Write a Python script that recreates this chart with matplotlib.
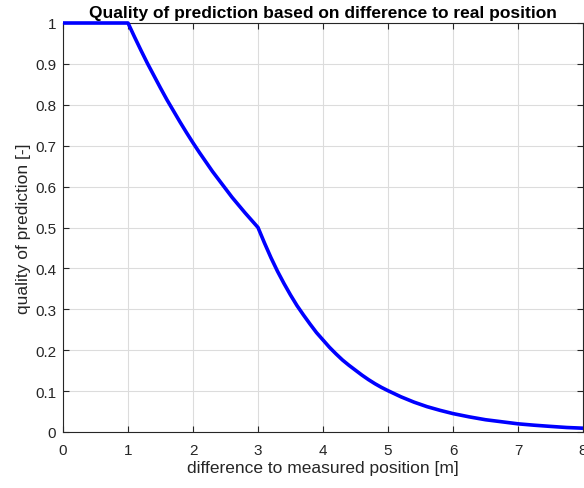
import matplotlib
matplotlib.use("Agg")
import matplotlib.pyplot as plt

x_vals = [0.0, 0.5, 1.0, 1.1, 1.2, 1.3, 1.4, 1.5, 1.6, 1.7, 1.8, 1.9,
          2.0, 2.1, 2.2, 2.3, 2.4, 2.5, 2.6, 2.7, 2.8, 2.9,
          3.0, 3.1, 3.2, 3.3, 3.4, 3.5, 3.6, 3.7, 3.8, 3.9,
          4.0, 4.1, 4.2, 4.3, 4.4, 4.5, 4.6, 4.7, 4.8, 4.9,
          5.0, 5.2, 5.4, 5.6, 5.8, 6.0, 6.25, 6.5, 6.75,
          7.0, 7.25, 7.5, 7.75, 8.0]
quality = [1.0, 1.0, 1.0, 0.966, 0.933, 0.901, 0.871, 0.841, 0.812, 0.785, 0.758, 0.732,
           0.707, 0.683, 0.660, 0.637, 0.616, 0.595, 0.574, 0.555, 0.536, 0.518,
           0.5, 0.462, 0.426, 0.393, 0.363, 0.335, 0.309, 0.286, 0.264, 0.243,
           0.225, 0.207, 0.191, 0.176, 0.163, 0.151, 0.139, 0.128, 0.118, 0.109,
           0.101, 0.086, 0.073, 0.062, 0.053, 0.045, 0.037, 0.030, 0.025,
           0.020, 0.0166, 0.0137, 0.011, 0.0093]
x_ticks = [0, 1, 2, 3, 4, 5, 6, 7, 8]
y_ticks = [0, 0.1, 0.2, 0.3, 0.4, 0.5, 0.6, 0.7, 0.8, 0.9, 1]
y_tick_labels = ["0", "0.1", "0.2", "0.3", "0.4", "0.5", "0.6", "0.7", "0.8", "0.9", "1"]

plt.rcParams['font.family'] = ['Liberation Sans', 'DejaVu Sans']

fig = plt.figure(figsize=(5.84, 4.89), dpi=100)
ax = fig.add_axes([63 / 584, (489 - 433) / 489, 520 / 584, 409 / 489])
ax.plot(x_vals, quality, color='#0000ff', linewidth=2.6, solid_joinstyle='round',
        solid_capstyle='butt', clip_on=False, zorder=3)
ax.set_xlim(0, 8)
ax.set_ylim(0, 1)
ax.set_xticks(x_ticks)
ax.set_yticks(y_ticks)
ax.set_yticklabels(y_tick_labels)
ax.grid(True, color='#dcdcdc', linewidth=0.8)
ax.set_axisbelow(True)
ax.tick_params(direction='in', top=True, right=True, length=4, width=0.8,
               colors='#262626', labelsize=11, labelcolor='#262626')
ax.tick_params(axis='x', pad=8)
ax.tick_params(axis='y', pad=5)
for s in ax.spines.values():
    s.set_color('#262626')
    s.set_linewidth(0.8)
ax.set_xlabel('difference to measured position [m]', fontsize=12.5, color='#262626', labelpad=2)
ax.set_ylabel('quality of prediction [-]', fontsize=12.5, color='#262626', labelpad=3)
ax.set_title('Quality of prediction based on difference to real position',
             fontsize=12.5, fontweight='bold', color='black', pad=4)
fig.savefig('out.png', dpi=100)
